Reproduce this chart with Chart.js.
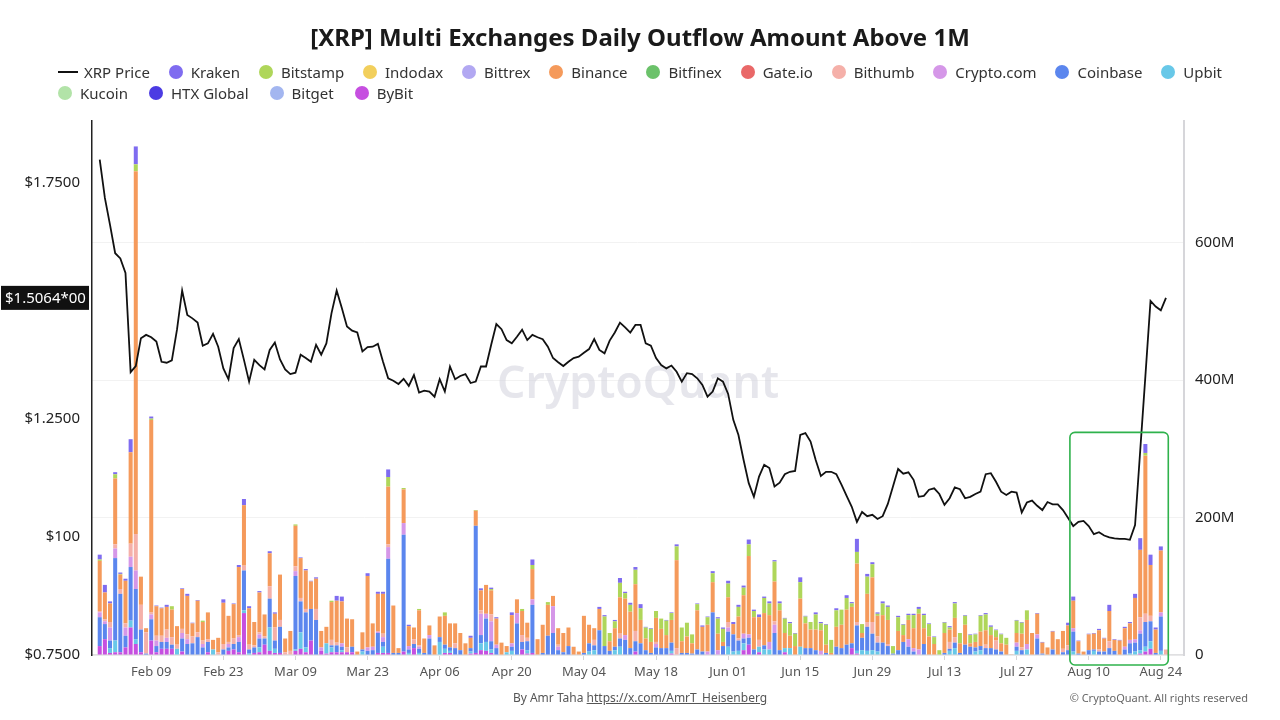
<!DOCTYPE html>
<html>
<head>
<meta charset="utf-8">
<script src="https://cdn.jsdelivr.net/npm/chart.js@4.4.1/dist/chart.umd.min.js"></script>
<style>
html, body { margin: 0; padding: 0; background: #fff; }
#wrap { position: relative; width: 1280px; height: 720px; overflow: hidden; font-family: 'Noto Sans', 'Open Sans', sans-serif; color: #222; }
#title { position: absolute; left: 0; top: 19px; width: 1280px; text-align: center; font-size: 24px; font-weight: 700; color: #1a1a1a; line-height: 36px; }
.row { position: absolute; left: 58px; display: flex; align-items: center; font-size: 15px; color: #333; height: 22px; }
#row1 { top: 61px; width: 1164px; justify-content: space-between; }
#row2 { top: 82px; gap: 21px; }
.item { display: flex; align-items: center; white-space: nowrap; }
.dot { width: 14px; height: 14px; border-radius: 50%; margin-right: 8px; display: inline-block; }
.line { width: 20px; height: 2px; background: #111; margin-right: 6px; display: inline-block; }
canvas { position: absolute; left: 0; top: 0; }
#credit { position: absolute; top: 689px; left: 0; width: 1280px; text-align: center; font-size: 12px; color: #555; }
#credit span { text-decoration: underline; }
#copy { position: absolute; top: 690px; right: 32px; font-size: 11px; color: #666; }
</style>
</head>
<body>
<div id="wrap">
  <canvas id="chart" width="1280" height="720"></canvas>
  <div id="title">[XRP] Multi Exchanges Daily Outflow Amount Above 1M</div>
  <div class="row" id="row1"></div>
  <div class="row" id="row2"></div>
  <div id="credit">By Amr Taha <span>https://x.com/AmrT_Heisenberg</span></div>
  <div id="copy">© CryptoQuant. All rights reserved</div>
</div>
<script>
// daily outflows (millions of XRP), Jan 30 - Aug 25 2025
const startDate = '2025-01-30';
const tickLabels = ['Feb 09', 'Feb 23', 'Mar 09', 'Mar 23', 'Apr 06', 'Apr 20', 'May 04', 'May 18', 'Jun 01', 'Jun 15', 'Jun 29', 'Jul 13', 'Jul 27', 'Aug 10', 'Aug 24'];
const priceTicks = [0.75, 1.0, 1.25, 1.75];
const priceTickText = ['$0.7500', '$100', '$1.2500', '$1.7500'];
const volumeTicks = [0, 200, 400, 600];

const xrpPrice = [
  1.799, 1.718, 1.661, 1.601, 1.590, 1.559, 1.349, 1.362, 1.421, 1.428,
  1.423, 1.414, 1.371, 1.369, 1.374, 1.439, 1.522, 1.470, 1.463, 1.454,
  1.405, 1.410, 1.430, 1.403, 1.357, 1.334, 1.400, 1.419, 1.375, 1.329,
  1.375, 1.364, 1.355, 1.396, 1.412, 1.376, 1.355, 1.345, 1.348, 1.386,
  1.379, 1.371, 1.407, 1.386, 1.410, 1.474, 1.522, 1.485, 1.446, 1.437,
  1.433, 1.393, 1.402, 1.403, 1.409, 1.371, 1.336, 1.331, 1.324, 1.335,
  1.320, 1.343, 1.306, 1.310, 1.308, 1.297, 1.334, 1.308, 1.361, 1.334,
  1.341, 1.345, 1.326, 1.329, 1.361, 1.361, 1.407, 1.451, 1.440, 1.417,
  1.410, 1.424, 1.439, 1.417, 1.428, 1.423, 1.419, 1.403, 1.379, 1.370,
  1.362, 1.371, 1.379, 1.382, 1.390, 1.398, 1.419, 1.396, 1.389, 1.416,
  1.433, 1.454, 1.444, 1.433, 1.449, 1.449, 1.410, 1.405, 1.379, 1.364,
  1.357, 1.363, 1.350, 1.329, 1.347, 1.345, 1.336, 1.322, 1.297, 1.308,
  1.336, 1.329, 1.303, 1.248, 1.216, 1.163, 1.114, 1.085, 1.128, 1.153,
  1.146, 1.107, 1.115, 1.133, 1.138, 1.140, 1.216, 1.220, 1.202, 1.163,
  1.129, 1.138, 1.138, 1.133, 1.111, 1.087, 1.064, 1.032, 1.053, 1.044,
  1.047, 1.038, 1.044, 1.070, 1.107, 1.144, 1.134, 1.137, 1.121, 1.085,
  1.087, 1.100, 1.103, 1.091, 1.068, 1.082, 1.105, 1.101, 1.082, 1.085,
  1.091, 1.096, 1.133, 1.135, 1.117, 1.096, 1.089, 1.096, 1.094, 1.052,
  1.073, 1.077, 1.066, 1.057, 1.074, 1.069, 1.069, 1.057, 1.040, 1.023,
  1.032, 1.034, 1.023, 1.006, 1.010, 1.003, 0.999, 0.997, 0.996, 0.996,
  0.994, 1.025, 1.183, 1.340, 1.500, 1.488, 1.480, 1.5064
];

const bybit = [
  13, 23, 3, 4, 4, 11, 40, 16, 4, 0,
  21, 4, 9, 9, 9, 0, 5, 0, 0, 0,
  0, 4, 0, 0, 0, 6, 8, 4, 61, 0,
  3, 4, 15, 6, 3, 3, 0, 0, 6, 9,
  4, 21, 0, 6, 2, 4, 4, 4, 4, 4,
  0, 0, 0, 0, 3, 3, 3, 0, 0, 5,
  0, 10, 0, 0, 0, 0, 0, 3, 3, 0,
  0, 0, 2, 3, 7, 6, 3, 0, 0, 0,
  0, 0, 8, 2, 3, 0, 0, 0, 0, 0,
  0, 0, 0, 0, 0, 0, 0, 0, 0, 0,
  0, 0, 0, 0, 5, 0, 0, 0, 0, 0,
  0, 2, 0, 0, 0, 0, 0, 0, 0, 0,
  0, 0, 0, 0, 0, 7, 15, 0, 4, 0,
  0, 0, 0, 4, 0, 0, 0, 0, 0, 0,
  0, 0, 0, 0, 0, 0, 10, 2, 0, 0,
  0, 0, 0, 0, 0, 0, 0, 0, 0, 0,
  0, 0, 0, 0, 0, 0, 0, 0, 0, 0,
  0, 0, 0, 0, 0, 0, 0, 0, 0, 0,
  0, 0, 0, 0, 0, 0, 0, 0, 0, 0,
  0, 0, 0, 0, 0, 0, 0, 0, 0, 0,
  0, 0, 2, 5, 9, 0, 0, 0
];
const upbit = [
  0, 0, 7, 17, 0, 0, 10, 7, 0, 0,
  0, 0, 0, 0, 0, 9, 0, 0, 0, 0,
  0, 0, 8, 0, 0, 0, 0, 0, 4, 2,
  0, 7, 0, 34, 6, 0, 0, 0, 2, 24,
  7, 0, 0, 0, 15, 7, 0, 3, 0, 0,
  0, 5, 0, 0, 0, 9, 0, 0, 0, 0,
  3, 0, 3, 0, 0, 0, 19, 6, 3, 0,
  0, 0, 3, 0, 10, 13, 5, 0, 0, 4,
  6, 0, 0, 5, 0, 0, 0, 0, 0, 0,
  0, 0, 0, 0, 0, 5, 7, 0, 0, 0,
  7, 12, 0, 0, 0, 0, 0, 0, 0, 0,
  0, 4, 0, 0, 0, 0, 0, 0, 0, 0,
  0, 0, 12, 5, 6, 10, 0, 0, 8, 8,
  8, 0, 0, 6, 10, 0, 12, 0, 0, 0,
  0, 0, 0, 0, 0, 0, 0, 4, 7, 6,
  7, 5, 0, 0, 0, 0, 0, 0, 0, 0,
  0, 0, 0, 0, 0, 6, 10, 0, 0, 0,
  5, 7, 0, 0, 0, 0, 0, 0, 6, 0,
  8, 0, 0, 0, 0, 0, 0, 0, 0, 5,
  0, 0, 0, 6, 0, 0, 0, 0, 0, 0,
  2, 5, 5, 7, 11, 0, 6, 0
];
const coinbase = [
  42, 22, 11, 120, 85, 17, 78, 73, 33, 2,
  31, 9, 10, 10, 6, 0, 19, 16, 17, 26,
  11, 15, 0, 0, 8, 5, 8, 15, 58, 6,
  8, 13, 9, 42, 12, 38, 0, 0, 107, 45,
  51, 46, 51, 0, 0, 3, 10, 5, 0, 8,
  0, 3, 6, 7, 29, 7, 137, 3, 3, 170,
  5, 6, 6, 3, 24, 0, 7, 6, 5, 10,
  7, 0, 5, 185, 12, 34, 12, 10, 0, 0,
  6, 46, 11, 13, 70, 0, 3, 28, 32, 7,
  4, 13, 0, 0, 3, 12, 7, 36, 13, 6,
  5, 12, 22, 10, 15, 17, 7, 3, 11, 10,
  10, 12, 0, 3, 3, 2, 8, 5, 0, 62,
  0, 13, 22, 25, 15, 7, 10, 8, 0, 6,
  0, 32, 7, 0, 0, 0, 0, 10, 10, 7,
  0, 3, 0, 12, 10, 15, 7, 37, 18, 35,
  24, 13, 18, 13, 2, 7, 19, 12, 5, 0,
  16, 0, 0, 0, 3, 3, 8, 3, 15, 12,
  6, 6, 10, 10, 8, 5, 0, 0, 6, 7,
  0, 0, 24, 2, 0, 8, 0, 4, 7, 29,
  2, 0, 7, 2, 5, 5, 10, 6, 0, 8,
  15, 13, 24, 36, 29, 3, 50, 0
];
const cryptoCom = [
  7, 4, 19, 14, 0, 12, 15, 27, 0, 0,
  7, 8, 0, 6, 0, 0, 8, 7, 0, 0,
  5, 0, 0, 0, 0, 5, 0, 7, 0, 0,
  0, 6, 0, 0, 0, 0, 0, 0, 7, 0,
  0, 0, 0, 5, 0, 0, 0, 5, 0, 0,
  0, 0, 5, 5, 2, 7, 17, 0, 0, 17,
  5, 0, 3, 0, 5, 0, 0, 0, 0, 0,
  0, 0, 0, 0, 31, 7, 29, 5, 0, 0,
  5, 15, 0, 0, 8, 0, 0, 0, 39, 5,
  0, 0, 0, 0, 0, 0, 0, 0, 0, 0,
  0, 0, 7, 0, 0, 0, 0, 0, 5, 0,
  0, 0, 0, 0, 0, 0, 0, 0, 5, 0,
  7, 0, 6, 0, 0, 7, 5, 0, 0, 0,
  11, 12, 0, 0, 0, 0, 0, 0, 0, 0,
  6, 0, 0, 0, 0, 0, 0, 0, 0, 0,
  0, 0, 0, 0, 0, 0, 0, 11, 5, 8,
  0, 0, 0, 0, 0, 0, 0, 0, 0, 0,
  0, 0, 0, 0, 0, 0, 0, 0, 6, 0,
  8, 0, 6, 0, 0, 0, 0, 0, 0, 5,
  0, 0, 0, 0, 0, 0, 0, 0, 0, 4,
  5, 5, 5, 0, 0, 0, 6, 0
];
const bithumb = [
  2, 3, 8, 6, 7, 6, 19, 53, 36, 31,
  3, 7, 9, 12, 11, 6, 6, 7, 10, 7,
  5, 4, 0, 4, 8, 3, 8, 3, 7, 7,
  3, 3, 3, 18, 19, 10, 4, 6, 7, 5,
  5, 0, 16, 0, 0, 8, 4, 0, 7, 0,
  0, 0, 0, 0, 0, 5, 4, 0, 0, 0,
  0, 7, 2, 0, 0, 0, 0, 0, 0, 7,
  0, 0, 0, 0, 5, 0, 10, 0, 0, 0,
  0, 0, 10, 5, 0, 0, 0, 0, 0, 3,
  0, 0, 0, 0, 0, 0, 8, 0, 0, 0,
  0, 7, 0, 0, 15, 0, 0, 0, 3, 0,
  0, 0, 10, 0, 0, 0, 0, 0, 0, 0,
  0, 0, 8, 0, 3, 0, 0, 0, 10, 0,
  0, 5, 0, 0, 0, 0, 0, 0, 0, 0,
  0, 0, 0, 0, 0, 0, 0, 5, 0, 7,
  17, 9, 0, 3, 0, 0, 0, 0, 0, 0,
  0, 0, 0, 0, 0, 10, 8, 0, 0, 0,
  0, 0, 5, 0, 13, 0, 0, 0, 0, 4,
  0, 0, 0, 0, 0, 0, 0, 5, 7, 0,
  0, 0, 0, 0, 3, 0, 10, 0, 0, 0,
  0, 0, 19, 12, 8, 0, 0, 8
];
const binance = [
  73, 39, 27, 96, 21, 62, 133, 528, 41, 6,
  280, 43, 40, 33, 40, 27, 58, 56, 19, 46,
  27, 39, 14, 21, 60, 38, 50, 99, 88, 53,
  34, 58, 32, 48, 20, 66, 20, 29, 59, 58,
  56, 40, 44, 24, 24, 55, 61, 61, 42, 40,
  5, 25, 104, 34, 55, 58, 84, 69, 7, 49,
  29, 17, 51, 21, 14, 14, 30, 42, 35, 29,
  25, 17, 15, 22, 29, 42, 35, 38, 18, 9,
  41, 20, 35, 22, 44, 23, 41, 45, 15, 24,
  28, 27, 12, 5, 54, 27, 17, 31, 0, 14,
  27, 53, 53, 53, 68, 34, 17, 16, 35, 28,
  19, 33, 128, 17, 24, 15, 57, 36, 39, 44,
  24, 6, 36, 15, 32, 56, 114, 47, 33, 47,
  39, 58, 58, 22, 18, 13, 70, 36, 27, 30,
  30, 12, 3, 29, 34, 51, 53, 85, 7, 41,
  65, 30, 40, 35, 0, 28, 10, 28, 29, 52,
  23, 27, 16, 0, 29, 18, 28, 14, 29, 5,
  8, 21, 21, 19, 5, 12, 15, 1, 14, 20,
  35, 32, 30, 16, 11, 26, 23, 26, 29, 40,
  18, 5, 23, 23, 28, 19, 44, 16, 21, 27,
  24, 60, 98, 230, 74, 34, 90, 0
];
const bitstamp = [
  2, 0, 0, 6, 1, 0, 0, 10, 0, 0,
  2, 0, 0, 0, 5, 0, 0, 0, 0, 0,
  2, 0, 0, 0, 0, 0, 0, 0, 0, 0,
  0, 0, 0, 0, 0, 0, 0, 0, 2, 0,
  0, 0, 0, 0, 0, 2, 0, 0, 0, 0,
  0, 0, 0, 0, 0, 0, 14, 0, 0, 2,
  0, 0, 2, 0, 0, 0, 0, 5, 0, 0,
  0, 0, 0, 1, 0, 0, 2, 0, 0, 0,
  0, 0, 3, 0, 6, 0, 0, 4, 0, 0,
  0, 0, 0, 0, 0, 0, 0, 0, 43, 12,
  10, 21, 8, 10, 21, 17, 16, 19, 10, 15,
  21, 10, 20, 20, 20, 13, 9, 0, 11, 13,
  22, 19, 20, 0, 14, 11, 17, 9, 0, 22,
  17, 29, 10, 21, 18, 18, 24, 10, 11, 22,
  10, 29, 19, 24, 22, 17, 5, 17, 13, 25,
  19, 3, 17, 19, 11, 20, 15, 7, 19, 7,
  19, 18, 10, 7, 15, 3, 21, 15, 13, 12,
  11, 23, 23, 12, 10, 13, 10, 0, 18, 16,
  14, 0, 0, 0, 0, 0, 0, 0, 0, 0,
  0, 0, 0, 0, 0, 0, 0, 0, 0, 0,
  0, 0, 0, 4, 0, 0, 0, 0
];
const kraken = [
  7, 11, 3, 3, 2, 3, 19, 26, 0, 0,
  3, 1, 1, 3, 0, 0, 1, 3, 1, 1,
  0, 0, 0, 0, 5, 0, 1, 3, 9, 3,
  0, 2, 0, 3, 2, 0, 0, 0, 0, 1,
  2, 1, 2, 0, 0, 0, 7, 7, 0, 0,
  0, 0, 4, 0, 3, 3, 11, 0, 0, 0,
  2, 0, 0, 0, 0, 0, 0, 0, 0, 0,
  0, 0, 3, 0, 3, 0, 2, 2, 0, 0,
  4, 0, 0, 0, 8, 0, 0, 0, 0, 0,
  0, 0, 0, 0, 0, 0, 0, 3, 2, 0,
  2, 7, 2, 3, 4, 6, 1, 1, 0, 0,
  1, 1, 3, 0, 0, 0, 1, 2, 1, 3,
  2, 2, 4, 3, 3, 3, 7, 2, 4, 2,
  3, 2, 3, 1, 2, 1, 7, 1, 0, 3,
  2, 1, 0, 3, 0, 4, 2, 19, 0, 4,
  3, 2, 3, 2, 0, 2, 1, 2, 2, 3,
  2, 1, 1, 0, 1, 2, 2, 0, 1, 1,
  1, 1, 2, 2, 1, 1, 0, 0, 1, 1,
  0, 0, 1, 1, 0, 1, 0, 0, 4, 6,
  1, 0, 1, 1, 2, 1, 9, 1, 1, 2,
  2, 6, 17, 13, 15, 3, 6, 0
];
// exchanges with no visible outflows in this window
const indodax = [];
const bittrex = [];
const bitfinex = [];
const gateio = [];
const kucoin = [];
const htxGlobal = [];
const bitget = [];

// stacked bottom -> top
const exchanges = [
  { name: 'ByBit', data: bybit, color: '#c64fe0' },
  { name: 'Bitget', data: bitget, color: '#a3b6f0' },
  { name: 'HTX Global', data: htxGlobal, color: '#4b3be3' },
  { name: 'Kucoin', data: kucoin, color: '#b2e3a8' },
  { name: 'Upbit', data: upbit, color: '#68c8e8' },
  { name: 'Coinbase', data: coinbase, color: '#5b86ee' },
  { name: 'Crypto.com', data: cryptoCom, color: '#d597e8' },
  { name: 'Bithumb', data: bithumb, color: '#f5b0a9' },
  { name: 'Gate.io', data: gateio, color: '#e96868' },
  { name: 'Bitfinex', data: bitfinex, color: '#6bc26a' },
  { name: 'Binance', data: binance, color: '#f59a5b' },
  { name: 'Bittrex', data: bittrex, color: '#b2a8f2' },
  { name: 'Indodax', data: indodax, color: '#f2cf5c' },
  { name: 'Bitstamp', data: bitstamp, color: '#afd65a' },
  { name: 'Kraken', data: kraken, color: '#7f6cf0' }
];
const legendRow1 = ['XRP Price', 'Kraken', 'Bitstamp', 'Indodax', 'Bittrex', 'Binance', 'Bitfinex', 'Gate.io', 'Bithumb', 'Crypto.com', 'Coinbase', 'Upbit'];
const legendRow2 = ['Kucoin', 'HTX Global', 'Bitget', 'ByBit'];

// day labels like "Feb 09", one empty day before and three after
const months = ['Jan', 'Feb', 'Mar', 'Apr', 'May', 'Jun', 'Jul', 'Aug', 'Sep'];
function dayLabel(d) {
    return months[d.getUTCMonth()] + ' ' + String(d.getUTCDate()).padStart(2, '0');
}
const labels = [];
const first = new Date(startDate + 'T00:00:00Z');
for (let i = -1; i < xrpPrice.length + 3; i++) {
    labels.push(dayLabel(new Date(first.getTime() + i * 86400000)));
}
const pad = arr => arr.length ? [null, ...arr, null, null, null] : [];

// legend rows
function buildLegend(el, names) {
    names.forEach(name => {
        const item = document.createElement('span');
        item.className = 'item';
        const mark = document.createElement('i');
        if (name === 'XRP Price') {
            mark.className = 'line';
        } else {
            mark.className = 'dot';
            mark.style.background = exchanges.find(e => e.name === name).color;
        }
        item.appendChild(mark);
        item.appendChild(document.createTextNode(name));
        el.appendChild(item);
    });
}
buildLegend(document.getElementById('row1'), legendRow1);
buildLegend(document.getElementById('row2'), legendRow2);

// watermark, price tag and highlight box
const extras = {
    id: 'extras',
    beforeDatasetsDraw(chart) {
        const { ctx, chartArea } = chart;
        ctx.save();
        ctx.font = '600 44px "Noto Sans", sans-serif';
        const w = ctx.measureText('CryptoQuant').width;
        const size = 44 * 282 / w;
        ctx.font = '600 ' + size.toFixed(1) + 'px "Noto Sans", sans-serif';
        ctx.fillStyle = 'rgba(205, 205, 218, 0.5)';
        ctx.textAlign = 'center';
        ctx.textBaseline = 'middle';
        ctx.fillText('CryptoQuant', (chartArea.left + chartArea.right) / 2, chartArea.top + 264);
        ctx.restore();
    },
    afterDatasetsDraw(chart) {
        const { ctx, chartArea, scales } = chart;
        const x = scales.x, yv = scales.yVol, yp = scales.yPrice;
        const step = x.getPixelForValue(1) - x.getPixelForValue(0);
        // highlight box around the August spike
        const left = x.getPixelForValue(labels.indexOf('Aug 06')) + step * 0.35;
        const right = x.getPixelForValue(labels.indexOf('Aug 25')) + step * 0.45;
        const top = yv.getPixelForValue(324);
        const bottom = chartArea.bottom + 10;
        ctx.save();
        ctx.strokeStyle = '#2fb24c';
        ctx.lineWidth = 1.6;
        ctx.beginPath();
        ctx.roundRect(left, top, right - left, bottom - top, 5);
        ctx.stroke();
        // current price tag on the left axis
        const last = xrpPrice[xrpPrice.length - 1];
        const py = yp.getPixelForValue(last);
        ctx.fillStyle = '#111';
        ctx.fillRect(1, py - 12, chartArea.left - 4, 24);
        ctx.fillStyle = '#fff';
        ctx.font = '15px "Noto Sans", sans-serif';
        ctx.textBaseline = 'middle';
        ctx.textAlign = 'left';
        ctx.fillText('$' + last.toFixed(4) + '*00', 5, py + 1);
        ctx.restore();
    }
};

const datasets = [{
    type: 'line',
    label: 'XRP Price',
    data: pad(xrpPrice),
    yAxisID: 'yPrice',
    borderColor: '#111',
    borderWidth: 1.8,
    pointRadius: 0,
    tension: 0
}];
exchanges.forEach(e => {
    datasets.push({
        type: 'bar',
        label: e.name,
        data: pad(e.data),
        yAxisID: 'yVol',
        stack: 'outflow',
        backgroundColor: e.color,
        borderWidth: 0,
        barPercentage: 0.78,
        categoryPercentage: 1
    });
});

const axisFont = { family: "'Noto Sans', sans-serif", size: 15 };

new Chart(document.getElementById('chart'), {
    type: 'bar',
    data: { labels: labels, datasets: datasets },
    options: {
        responsive: false,
        animation: false,
        layout: { padding: { top: 121, left: 0, right: 0, bottom: 0 } },
        plugins: { legend: { display: false }, tooltip: { enabled: false } },
        scales: {
            x: {
                stacked: true,
                grid: { display: true, drawOnChartArea: false, drawTicks: true, tickLength: 5, offset: false, color: '#d5d5d5' },
                border: { display: true, color: '#e0e0e2', width: 1.5 },
                afterBuildTicks: s => { s.ticks = s.ticks.filter(t => tickLabels.includes(labels[t.value])); },
                afterFit: s => { s.height = 65; },
                ticks: {
                    autoSkip: false,
                    maxRotation: 0,
                    padding: 4,
                    color: '#555',
                    font: { family: "'Noto Sans', sans-serif", size: 13 },
                    callback: function (v) { return this.getLabelForValue(v); }
                }
            },
            yPrice: {
                position: 'left',
                min: 0.75,
                max: 1.881,
                grid: { display: false, drawTicks: false },
                border: { display: true, color: '#222', width: 1.5 },
                afterBuildTicks: s => { s.ticks = priceTicks.map(v => ({ value: v })); },
                afterFit: s => { s.width = 92; },
                ticks: {
                    padding: 12,
                    color: '#222',
                    font: axisFont,
                    callback: v => priceTickText[priceTicks.indexOf(v)]
                }
            },
            yVol: {
                position: 'right',
                stacked: true,
                min: 0,
                max: 777,
                grid: { display: true, drawTicks: false, color: '#f2f2f2' },
                border: { display: true, color: '#d6d6da', width: 2 },
                afterBuildTicks: s => { s.ticks = volumeTicks.map(v => ({ value: v })); },
                afterFit: s => { s.width = 96; },
                ticks: {
                    padding: 11,
                    color: '#222',
                    font: axisFont,
                    callback: v => v === 0 ? '0' : v + 'M'
                }
            }
        }
    },
    plugins: [extras]
});
</script>
</body>
</html>
